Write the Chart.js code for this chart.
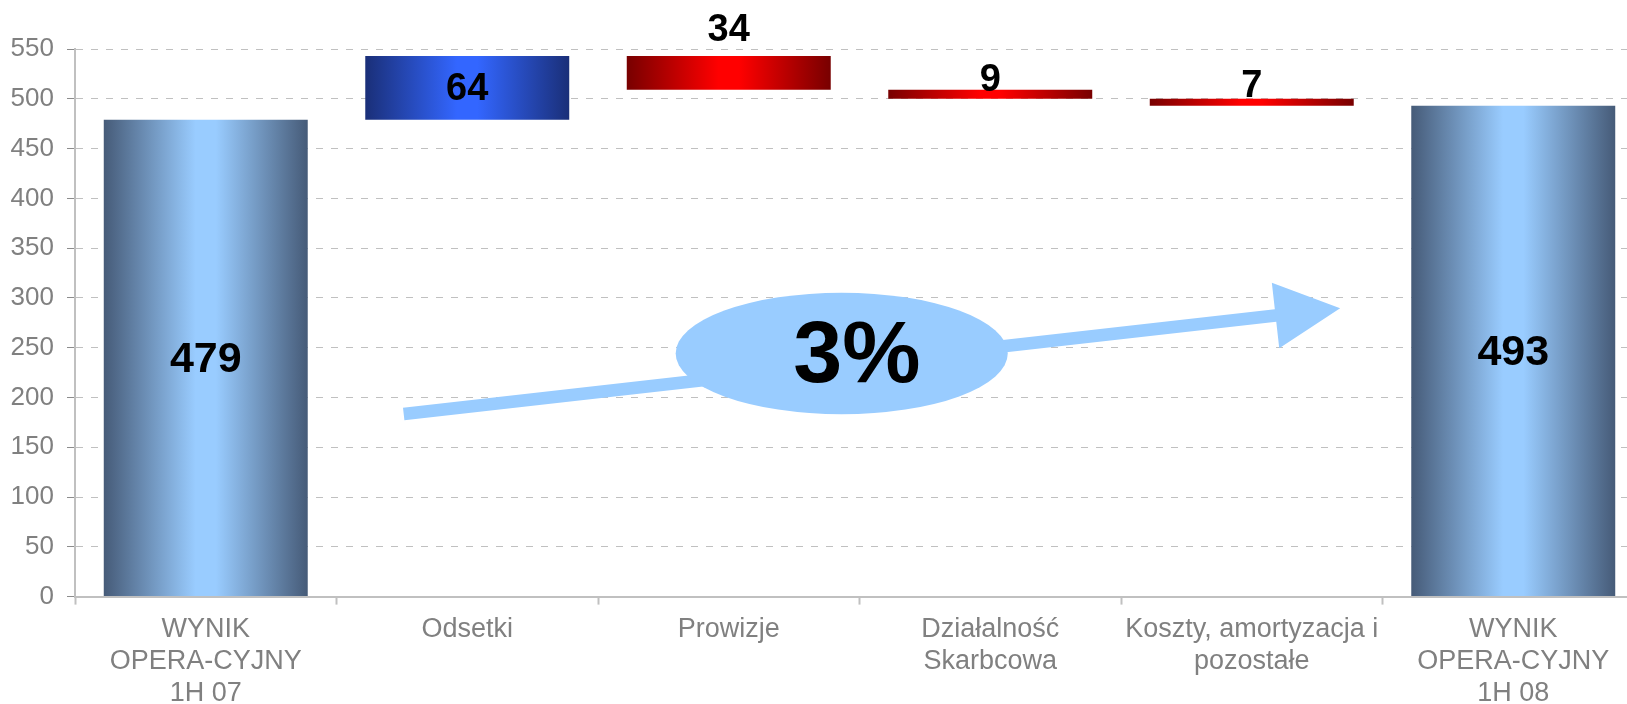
<!DOCTYPE html>
<html>
<head>
<meta charset="utf-8">
<script src="https://cdn.jsdelivr.net/npm/chart.js@4.4.1/dist/chart.umd.min.js"></script>
<style>
  html, body { margin: 0; padding: 0; background: #fff; overflow: hidden; }
  #wrap { position: absolute; left: 0; top: 0; width: 1650px; height: 719px; }
</style>
</head>
<body>
<div id="wrap"><canvas id="chart"></canvas></div>
<script>
// data
const categories = [
    ["WYNIK", "OPERA-CYJNY", "1H 07"],
    "Odsetki",
    "Prowizje",
    ["Działalność", "Skarbcowa"],
    ["Koszty, amortyzacja i", "pozostałe"],
    ["WYNIK", "OPERA-CYJNY", "1H 08"]
];
const startTotal = 479;
const changes = [64, -34, -9, -7];
const endTotal = 493;
const yMin = 0, yMax = 550, yStep = 50;
const growthText = "3%";

// waterfall ranges built from the values above
const ranges = [[0, startTotal]];
let running = startTotal;
changes.forEach(c => { ranges.push([running, running + c]); running += c; });
ranges.push([0, endTotal]);
const shownValues = [startTotal, ...changes.map(Math.abs), endTotal];
const kinds = ["total", ...changes.map(c => c > 0 ? "up" : "down"), "total"];

const BAR_PCT = 0.78;
const FONT = '"Liberation Sans", Arial, sans-serif';
const labelGap = [0, 0, 15, -1, 2, 0];

const fills = {
    total: ["#465b78", "#99ccff", "#99ccff", "#465b78"],
    up:    ["#1a2f78", "#3366ff", "#3366ff", "#1a2f78"],
    down:  ["#780000", "#ff0000", "#ff0000", "#780000"]
};

function barFill(ctx) {
    const chart = ctx.chart;
    const xs = chart.scales.x;
    if (!chart.chartArea || !xs) return "#99ccff";
    const cx = xs.getPixelForValue(ctx.dataIndex);
    const w = (xs.width / categories.length) * BAR_PCT;
    const g = chart.ctx.createLinearGradient(cx - w / 2, 0, cx + w / 2, 0);
    const c = fills[kinds[ctx.dataIndex]];
    g.addColorStop(0, c[0]);
    g.addColorStop(0.45, c[1]);
    g.addColorStop(0.55, c[2]);
    g.addColorStop(1, c[3]);
    return g;
}

// growth arrow + ellipse, placed in axis units
const overlayPlugin = {
    id: "growthArrow",
    afterDatasetsDraw(chart) {
        const { ctx, scales: { x, y } } = chart;
        const S = { x: x.getPixelForValue(0.757), y: y.getPixelForValue(183.5) };
        const T = { x: x.getPixelForValue(4.338), y: y.getPixelForValue(289.7) };
        const len = Math.hypot(T.x - S.x, T.y - S.y);
        const d = { x: (T.x - S.x) / len, y: (T.y - S.y) / len };
        const n = { x: -d.y, y: d.x };
        const headLen = 65, sh = 6.3, hh = 33;
        const B = { x: T.x - d.x * headLen, y: T.y - d.y * headLen };
        ctx.save();
        ctx.fillStyle = "#99ccff";
        ctx.beginPath();
        ctx.moveTo(S.x + n.x * sh, S.y + n.y * sh);
        ctx.lineTo(B.x + n.x * sh, B.y + n.y * sh);
        ctx.lineTo(B.x + n.x * hh, B.y + n.y * hh);
        ctx.lineTo(T.x, T.y);
        ctx.lineTo(B.x - n.x * hh, B.y - n.y * hh);
        ctx.lineTo(B.x - n.x * sh, B.y - n.y * sh);
        ctx.lineTo(S.x - n.x * sh, S.y - n.y * sh);
        ctx.closePath();
        ctx.fill();

        const ex = x.getPixelForValue(2.432), ey = y.getPixelForValue(244.2);
        const rx = x.getPixelForValue(2.432 + 0.635) - ex;
        const ry = y.getPixelForValue(244.2 - 61) - ey;
        ctx.beginPath();
        ctx.ellipse(ex, ey, rx, ry, 0, 0, Math.PI * 2);
        ctx.fill();

        ctx.fillStyle = "#000";
        ctx.font = "bold 88px " + FONT;
        ctx.textAlign = "center";
        ctx.textBaseline = "middle";
        ctx.fillText(growthText, x.getPixelForValue(2.49), y.getPixelForValue(240));
        ctx.restore();
    }
};

const labelPlugin = {
    id: "barLabels",
    afterDatasetsDraw(chart) {
        const ctx = chart.ctx;
        const meta = chart.getDatasetMeta(0);
        ctx.save();
        ctx.fillStyle = "#000";
        ctx.textAlign = "center";
        meta.data.forEach((bar, i) => {
            const top = Math.min(bar.y, bar.base);
            const bottom = Math.max(bar.y, bar.base);
            ctx.font = (kinds[i] === "total" ? "bold 43px " : "bold 38px ") + FONT;
            if (kinds[i] === "down") {
                ctx.textBaseline = "alphabetic";
                ctx.fillText(shownValues[i], bar.x, top - labelGap[i]);
            } else {
                ctx.textBaseline = "middle";
                ctx.fillText(shownValues[i], bar.x, (top + bottom) / 2 + 2);
            }
        });
        ctx.restore();
    }
};

new Chart(document.getElementById("chart"), {
    type: "bar",
    data: {
        labels: categories,
        datasets: [{
            data: ranges,
            backgroundColor: barFill,
            borderWidth: 0,
            barPercentage: BAR_PCT,
            categoryPercentage: 1
        }]
    },
    options: {
        responsive: true,
        maintainAspectRatio: false,
        animation: false,
        layout: { padding: { left: 11, top: 49, right: 6, bottom: 0 } },
        plugins: { legend: { display: false }, tooltip: { enabled: false } },
        scales: {
            x: {
                offset: true,
                grid: { offset: true, drawOnChartArea: false, tickLength: 8, tickColor: "#c0c0c0", tickWidth: 2 },
                border: { color: "#c0c0c0", width: 2 },
                ticks: { color: "#808080", padding: 9, maxRotation: 0, autoSkip: false,
                         font: { family: FONT, size: 27, lineHeight: 1.19 } }
            },
            y: {
                min: yMin,
                max: yMax,
                afterFit: s => { s.width = 64; },
                grid: { color: "#c0c0c0", lineWidth: 1, tickLength: 8, tickColor: "#8c8c8c" },
                border: { color: "#c0c0c0", width: 2, dash: [7, 8] },
                ticks: { stepSize: yStep, color: "#808080", padding: 13,
                         font: { family: FONT, size: 26 } }
            }
        }
    },
    plugins: [overlayPlugin, labelPlugin]
});
</script>
</body>
</html>
